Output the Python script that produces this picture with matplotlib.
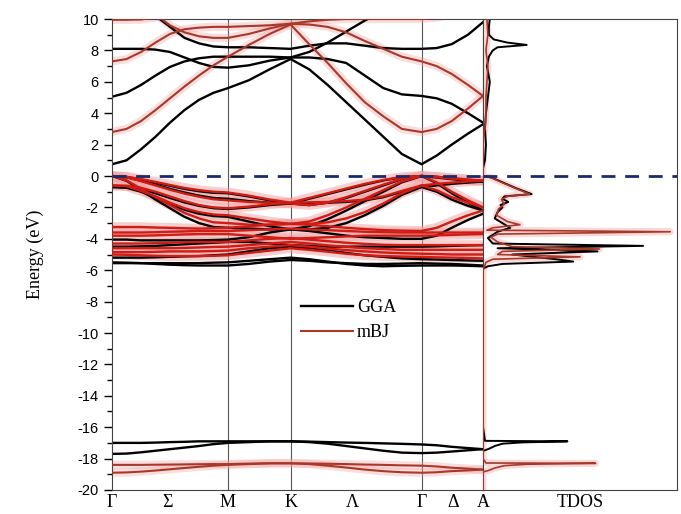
import numpy as np
import matplotlib.pyplot as plt
from matplotlib.lines import Line2D

plt.rcParams['axes.unicode_minus'] = False

# k-path: G - M - K - G - A
kpath = np.array([0, 0.125, 0.25, 0.375, 0.5, 0.625, 0.75, 0.875, 1.0, 1.18, 1.36, 1.54,
                  1.70, 1.86, 2.02, 2.18, 2.34, 2.50, 2.67, 2.80, 2.93, 3.07, 3.2])
k_sym = [0, 1.0, 1.54, 2.67, 3.2]
k_labels = ['Γ', 'Σ', 'M', 'K', 'Λ', 'Γ', 'Δ', 'A']
k_label_pos = [0, 0.48, 1.0, 1.54, 2.07, 2.67, 2.94, 3.2]

# GGA bands (eV)
gga_cond = [
    [0.75, 1.0, 1.7, 2.5, 3.4, 4.2, 4.85, 5.3, 5.6, 6.1, 6.8, 7.45, 6.8, 5.8, 4.7, 3.6, 2.5, 1.4, 0.75, 1.3, 2.0, 2.7, 3.3],
    [5.05, 5.3, 5.8, 6.4, 6.95, 7.3, 7.5, 7.6, 7.6, 7.6, 7.6, 7.55, 7.55, 7.45, 7.2, 6.4, 5.6, 5.2, 5.1, 4.95, 4.6, 4.0, 3.4],
    [8.1, 8.1, 8.1, 8.05, 7.9, 7.55, 7.2, 6.95, 6.9, 7.05, 7.35, 7.55, 7.9, 8.5, 9.2, 9.9, 10.5, 11.0, 11.5, 11.5, 11.5, 11.5, 11.5],
    [12.0, 11.8, 11.2, 10.2, 9.5, 8.8, 8.45, 8.25, 8.2, 8.2, 8.15, 8.1, 8.3, 8.45, 8.45, 8.3, 8.15, 8.1, 8.1, 8.15, 8.4, 9.0, 9.8],
]
gga_val = [
    [0, -0.06, -0.22, -0.42, -0.62, -0.82, -0.97, -1.07, -1.1, -1.3, -1.55, -1.75, -1.45, -1.15, -0.85, -0.55, -0.28, -0.08, 0, -0.05, -0.15, -0.27, -0.35],
    [0, -0.08, -0.3, -0.55, -0.82, -1.05, -1.25, -1.4, -1.45, -1.6, -1.7, -1.75, -1.85, -1.7, -1.4, -1.0, -0.6, -0.2, 0, -0.1, -0.2, -0.3, -0.35],
    [0, -0.3, -0.9, -1.5, -2.05, -2.6, -3.0, -3.25, -3.3, -3.35, -3.4, -3.4, -3.2, -2.75, -2.2, -1.6, -1.0, -0.4, 0, -0.45, -1.1, -1.7, -2.2],
    [-0.7, -0.72, -0.85, -1.1, -1.4, -1.68, -1.9, -2.05, -2.1, -2.0, -1.85, -1.75, -1.72, -1.7, -1.65, -1.55, -1.35, -1.0, -0.7, -0.6, -0.5, -0.42, -0.35],
    [-0.7, -0.75, -1.0, -1.4, -1.8, -2.15, -2.4, -2.55, -2.6, -2.9, -3.2, -3.4, -3.4, -3.3, -3.0, -2.5, -1.9, -1.2, -0.7, -1.0, -1.5, -1.9, -2.2],
    [-4.05, -4.05, -4.1, -4.1, -4.1, -4.1, -4.1, -4.08, -4.05, -3.9, -3.6, -3.4, -3.5, -3.65, -3.8, -3.9, -3.95, -4.0, -4.0, -3.8, -3.3, -2.8, -2.4],
    [-4.5, -4.5, -4.48, -4.45, -4.4, -4.35, -4.3, -4.25, -4.2, -4.2, -4.3, -4.4, -4.45, -4.5, -4.5, -4.5, -4.5, -4.5, -4.5, -4.48, -4.45, -4.42, -4.4],
    [-5.2, -5.2, -5.2, -5.18, -5.15, -5.12, -5.1, -5.05, -5.0, -4.8, -4.6, -4.5, -4.6, -4.75, -4.9, -5.05, -5.15, -5.25, -5.3, -5.32, -5.35, -5.38, -5.4],
    [-5.5, -5.52, -5.55, -5.6, -5.65, -5.68, -5.7, -5.7, -5.7, -5.6, -5.45, -5.35, -5.4, -5.5, -5.55, -5.6, -5.6, -5.58, -5.55, -5.58, -5.6, -5.65, -5.7],
    [-5.55, -5.55, -5.55, -5.55, -5.55, -5.55, -5.55, -5.52, -5.5, -5.4, -5.3, -5.2, -5.3, -5.45, -5.6, -5.7, -5.75, -5.72, -5.7, -5.7, -5.7, -5.72, -5.75],
    [-17.0, -17.0, -17.0, -16.98, -16.95, -16.93, -16.9, -16.9, -16.9, -16.9, -16.9, -16.9, -16.92, -16.95, -16.98, -17.0, -17.03, -17.06, -17.1, -17.15, -17.25, -17.33, -17.4],
    [-17.7, -17.68, -17.6, -17.5, -17.4, -17.3, -17.2, -17.08, -17.0, -16.95, -16.9, -16.9, -16.95, -17.05, -17.2, -17.35, -17.5, -17.62, -17.65, -17.62, -17.55, -17.47, -17.4],
]

# mBJ bands (eV)
mbj_cond = [
    [2.8, 3.0, 3.5, 4.2, 4.95, 5.7, 6.4, 7.05, 7.6, 8.35, 9.05, 9.65, 8.4, 7.2, 5.9, 4.7, 3.8, 3.0, 2.8, 3.0, 3.5, 4.3, 5.1],
    [7.3, 7.45, 7.9, 8.5, 9.05, 9.35, 9.45, 9.5, 9.5, 9.55, 9.6, 9.7, 9.65, 9.5, 9.15, 8.6, 8.1, 7.6, 7.3, 7.0, 6.5, 5.8, 5.1],
    [11.5, 11.4, 11.0, 10.3, 9.6, 9.15, 8.9, 8.8, 8.8, 9.05, 9.4, 9.7, 9.85, 9.95, 10.0, 10.0, 10.0, 10.0, 10.0, 10.1, 10.3, 10.5, 10.7],
    [9.95, 9.95, 9.97, 10.1, 10.3, 10.5, 10.6, 10.7, 10.8, 10.7, 10.6, 10.5, 10.6, 10.8, 11.0, 11.0, 11.0, 11.0, 11.0, 11.0, 11.0, 11.0, 11.0],
]
mbj_val = [
    [0, -0.05, -0.2, -0.38, -0.57, -0.76, -0.9, -1.0, -1.05, -1.25, -1.5, -1.7, -1.4, -1.1, -0.8, -0.5, -0.25, -0.07, 0, -0.05, -0.13, -0.22, -0.3],
    [0, -0.08, -0.33, -0.6, -0.88, -1.12, -1.32, -1.48, -1.55, -1.65, -1.7, -1.75, -1.85, -1.7, -1.35, -0.95, -0.55, -0.18, 0, -0.08, -0.17, -0.25, -0.3],
    [0, -0.28, -0.8, -1.35, -1.85, -2.35, -2.7, -2.95, -3.0, -3.1, -3.1, -3.05, -2.9, -2.5, -2.0, -1.45, -0.9, -0.35, 0, -0.4, -1.0, -1.55, -2.0],
    [-0.6, -0.62, -0.75, -1.0, -1.3, -1.6, -1.85, -2.0, -2.05, -1.95, -1.8, -1.7, -1.68, -1.65, -1.6, -1.5, -1.3, -0.95, -0.6, -0.5, -0.42, -0.35, -0.3],
    [-0.6, -0.65, -0.95, -1.3, -1.7, -2.05, -2.3, -2.45, -2.5, -2.7, -2.9, -3.05, -3.05, -2.95, -2.7, -2.3, -1.75, -1.1, -0.6, -0.9, -1.35, -1.7, -2.0],
    [-3.25, -3.25, -3.25, -3.28, -3.3, -3.33, -3.35, -3.33, -3.3, -3.2, -3.1, -3.05, -3.1, -3.2, -3.3, -3.38, -3.45, -3.48, -3.5, -3.3, -2.9, -2.5, -2.2],
    [-3.6, -3.6, -3.6, -3.58, -3.55, -3.53, -3.5, -3.5, -3.5, -3.45, -3.4, -3.35, -3.4, -3.45, -3.5, -3.55, -3.58, -3.6, -3.6, -3.6, -3.6, -3.6, -3.6],
    [-3.8, -3.8, -3.8, -3.78, -3.75, -3.72, -3.7, -3.7, -3.7, -3.8, -3.9, -4.0, -3.95, -3.9, -3.85, -3.8, -3.8, -3.8, -3.8, -3.78, -3.75, -3.72, -3.7],
    [-4.3, -4.3, -4.3, -4.28, -4.25, -4.22, -4.2, -4.2, -4.2, -4.1, -4.0, -3.95, -4.05, -4.15, -4.25, -4.32, -4.38, -4.4, -4.4, -4.4, -4.4, -4.4, -4.4],
    [-4.6, -4.6, -4.6, -4.6, -4.6, -4.58, -4.55, -4.52, -4.5, -4.4, -4.3, -4.2, -4.3, -4.42, -4.52, -4.6, -4.65, -4.7, -4.7, -4.7, -4.7, -4.7, -4.7],
    [-4.85, -4.85, -4.85, -4.83, -4.8, -4.8, -4.8, -4.78, -4.75, -4.6, -4.5, -4.4, -4.5, -4.62, -4.72, -4.8, -4.87, -4.92, -4.95, -4.97, -5.0, -5.0, -5.0],
    [-5.0, -5.02, -5.05, -5.08, -5.1, -5.1, -5.1, -5.08, -5.05, -4.9, -4.75, -4.6, -4.7, -4.82, -4.95, -5.05, -5.1, -5.13, -5.15, -5.18, -5.2, -5.22, -5.25],
]
mbj_core = [
    [-18.4, -18.4, -18.4, -18.39, -18.38, -18.37, -18.36, -18.35, -18.35, -18.32, -18.3, -18.3, -18.31, -18.33, -18.35, -18.38, -18.4, -18.43, -18.45, -18.5, -18.58, -18.64, -18.7],
    [-18.9, -18.88, -18.83, -18.76, -18.68, -18.6, -18.52, -18.45, -18.4, -18.35, -18.3, -18.3, -18.35, -18.45, -18.57, -18.7, -18.8, -18.87, -18.9, -18.87, -18.8, -18.75, -18.7],
]

# total DOS (arb. units)
gga_dos_e = [10, 9.5, 9.0, 8.7, 8.5, 8.35, 8.2, 8.0, 7.6, 7.0, 6.0, 5.0, 4.0, 3.0, 2.0, 1.0, 0.75, 0.5,
             0, -0.1, -0.4, -0.8, -1.15, -1.3, -1.45, -1.65, -1.85, -2.0, -2.3, -2.7, -3.0, -3.3, -3.55,
             -3.75, -3.95, -4.3, -4.45, -4.6, -4.8, -5.0, -5.3, -5.45, -5.6, -5.75, -5.9, -6.5,
             -16.0, -16.87, -16.9, -16.97, -17.05, -17.2, -17.35, -17.45, -17.5, -20]
gga_dos = [0.7, 0.6, 0.6, 1.1, 2.5, 4.5, 1.5, 1.0, 0.6, 0.4, 0.7, 0.5, 0.3, 0.2, 0.3, 0.2, 0.1, 0,
           0, 0.9, 2.0, 3.5, 5.0, 2.2, 2.0, 2.6, 1.8, 2.0, 1.5, 1.2, 2.0, 2.8, 1.5,
           1.0, 0.5, 1.0, 16.5, 1.5, 11.8, 3.0, 7.5, 9.3, 2.0, 0.5, 0, 0,
           0, 0.2, 8.7, 4.0, 2.0, 1.2, 0.7, 0.3, 0, 0]

mbj_dos_e = [10, 9.0, 8.0, 7.0, 6.0, 5.0, 4.0, 3.0, 2.8, 2.5, 0, -0.1, -0.4, -0.8, -1.15, -1.3, -1.5,
             -1.8, -2.1, -2.5, -2.9, -3.1, -3.3, -3.45, -3.55, -3.7, -3.9, -4.2, -4.5, -4.65, -4.8,
             -5.0, -5.15, -5.3, -5.5, -6.0, -18.0, -18.28, -18.3, -18.36, -18.45, -18.6, -18.75, -18.85, -20]
mbj_dos = [0.4, 0.5, 0.3, 0.5, 0.4, 0.3, 0.3, 0.2, 0.1, 0, 0, 0.8, 1.9, 3.4, 4.8, 2.5, 1.9,
           2.2, 1.6, 1.4, 2.5, 3.8, 1.0, 0.4, 19.3, 1.5, 0.8, 1.5, 3.0, 12.0, 2.0,
           1.5, 10.0, 1.0, 0.3, 0, 0, 0.3, 11.6, 4.5, 2.2, 1.2, 0.6, 0, 0]

fig = plt.figure(figsize=(6.81, 5.14), dpi=100)
ax = fig.add_axes([0.1645, 0.0467, 0.5448, 0.9163])
ax2 = fig.add_axes([0.7093, 0.0467, 0.2849, 0.9163])

red_c = '#a8382a'
red_v = '#cf1c14'
glow = '#f3a0a0'

for b in mbj_cond + mbj_core:
    ax.plot(kpath, b, color=glow, lw=6, alpha=0.35, solid_capstyle='round', zorder=1)
for b in mbj_val:
    ax.plot(kpath, b, color=glow, lw=7, alpha=0.5, solid_capstyle='round', zorder=1)
for b in gga_cond + gga_val:
    ax.plot(kpath, b, color='black', lw=1.7, zorder=2)
for b in mbj_cond + mbj_core:
    ax.plot(kpath, b, color=red_c, lw=1.5, zorder=3)
for b in mbj_val:
    ax.plot(kpath, b, color=red_v, lw=1.7, zorder=3)

for k in k_sym[1:-1]:
    ax.axvline(k, color='#555555', lw=0.8, zorder=0)
ax.axhline(0, color='#1c2a6b', lw=2, dashes=(5, 3.5), zorder=4)

ax.set_xlim(0, 3.2)
ax.set_ylim(-20, 10)
ax.set_yticks(np.arange(-20, 11, 2))
ax.set_yticks(np.arange(-19, 10, 2), minor=True)
ax.tick_params(axis='y', which='major', direction='out', length=6, width=1, labelsize=10.5)
ax.tick_params(axis='y', which='minor', direction='out', length=3.5, width=1)
for lab in ax.get_yticklabels():
    lab.set_fontfamily('Liberation Sans')
ax.set_xticks(k_label_pos)
ax.set_xticklabels(k_labels, fontfamily='Liberation Serif', fontsize=13)
ax.tick_params(axis='x', length=0, pad=3)
ax.set_ylabel('Energy (eV)', fontfamily='Liberation Serif', fontsize=13, labelpad=24)
for s in ax.spines.values():
    s.set_color('#444444')

ax2.plot(mbj_dos, mbj_dos_e, color=glow, lw=5, alpha=0.4, zorder=1)
ax2.plot(gga_dos, gga_dos_e, color='black', lw=1.4, zorder=2)
ax2.plot(mbj_dos, mbj_dos_e, color=red_c, lw=1.2, zorder=3)
ax2.axhline(0, color='#1c2a6b', lw=2, dashes=(5, 3.5), zorder=4)
ax2.set_xlim(0, 20)
ax2.set_ylim(-20, 10)
ax2.set_yticks([])
ax2.set_xticks([10])
ax2.set_xticklabels(['TDOS'], fontfamily='Liberation Serif', fontsize=13)
ax2.tick_params(axis='x', length=0, pad=3)
for s in ax2.spines.values():
    s.set_color('#444444')

handles = [Line2D([], [], color='black', lw=1.7),
           Line2D([], [], color=red_c, lw=1.5)]
ax.legend(handles, ['GGA', 'mBJ'], loc='upper left', bbox_to_anchor=(0.465, 0.44),
          frameon=False, prop={'family': 'Liberation Serif', 'size': 13},
          handlelength=2.9, handletextpad=0.2, labelspacing=0.45)

fig.savefig('out.png', dpi=100)
